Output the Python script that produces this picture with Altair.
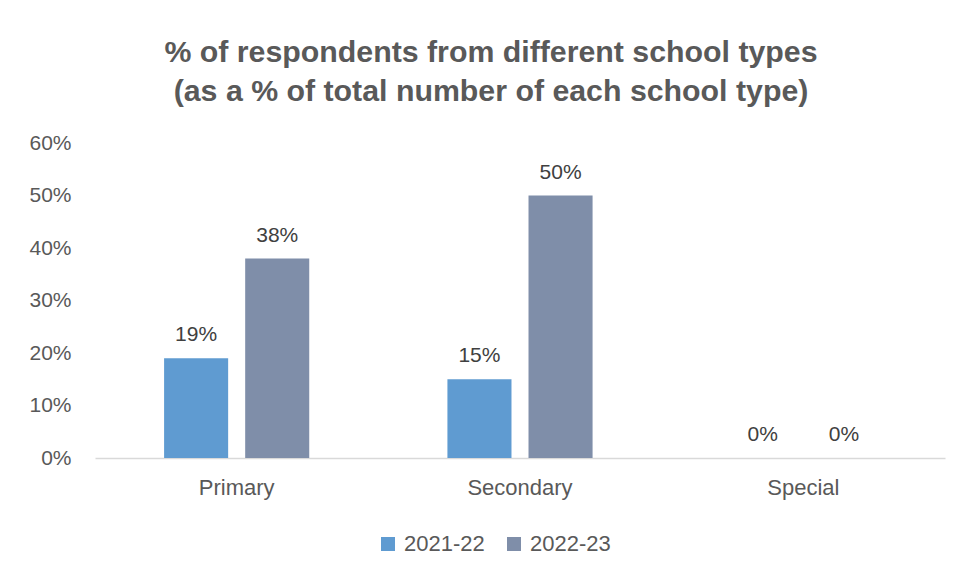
import altair as alt
import pandas as pd

categories = ["Primary", "Secondary", "Special"]
series = ["2021-22", "2022-23"]
values_2021 = [0.19, 0.15, 0.0]
values_2022 = [0.38, 0.50, 0.0]
colors = ["#5F9BD1", "#7F8EA9"]

rows = []
for c, v1, v2 in zip(categories, values_2021, values_2022):
    rows.append({"School": c, "Year": series[0], "Value": v1})
    rows.append({"School": c, "Year": series[1], "Value": v2})
df = pd.DataFrame(rows)

FONT = "Liberation Sans"

x_enc = alt.X("School:N", sort=categories,
              scale=alt.Scale(paddingInner=0, paddingOuter=0),
              axis=alt.Axis(title=None, labelAngle=0, ticks=False, domainColor="#D9D9D9",
                            domainWidth=1.5, labelFontSize=22, labelColor="#595959",
                            labelFont=FONT, labelPadding=19, grid=False))
xoff = alt.XOffset("Year:N", sort=series,
                   scale=alt.Scale(paddingInner=0.21, paddingOuter=0.852))
y_enc = alt.Y("Value:Q", scale=alt.Scale(domain=[0, 0.6]),
              axis=alt.Axis(title=None, format=".0%", values=[0, 0.1, 0.2, 0.3, 0.4, 0.5, 0.6],
                            grid=False, domain=False, ticks=False, labelFontSize=21,
                            labelColor="#595959", labelFont=FONT, labelPadding=24))
color_enc = alt.Color("Year:N", sort=series,
                      scale=alt.Scale(domain=series, range=colors),
                      legend=alt.Legend(title=None, orient="none", direction="horizontal",
                                        legendX=282, legendY=390, symbolType="square",
                                        symbolSize=196, symbolStrokeWidth=0,
                                        labelFontSize=22, labelColor="#595959",
                                        labelFont=FONT, labelOffset=5,
                                        columnPadding=18, padding=0))

bars = alt.Chart(df).mark_bar().encode(x=x_enc, xOffset=xoff, y=y_enc, color=color_enc)
labels = alt.Chart(df).mark_text(baseline="bottom", dy=-13, fontSize=21,
                                 font=FONT, color="#404040").encode(
    x=alt.X("School:N", sort=categories), xOffset=alt.XOffset("Year:N", sort=series),
    y="Value:Q", text=alt.Text("Value:Q", format=".0%"))

chart = alt.layer(bars, labels).properties(
    width=850, height=315,
    title=alt.TitleParams(
        text=["% of respondents from different school types",
              "(as a % of total number of each school type)"],
        font=FONT, fontSize=30.3, fontWeight="bold", color="#595959",
        anchor="middle", frame="group", dx=-29, lineHeight=39, offset=25),
    autosize=alt.AutoSizeParams(type="none"),
    padding={"left": 87, "top": 135, "right": 13, "bottom": 100},
).configure_view(stroke=None)

chart.save("out.html", embed_options={"renderer": "svg", "actions": False})
